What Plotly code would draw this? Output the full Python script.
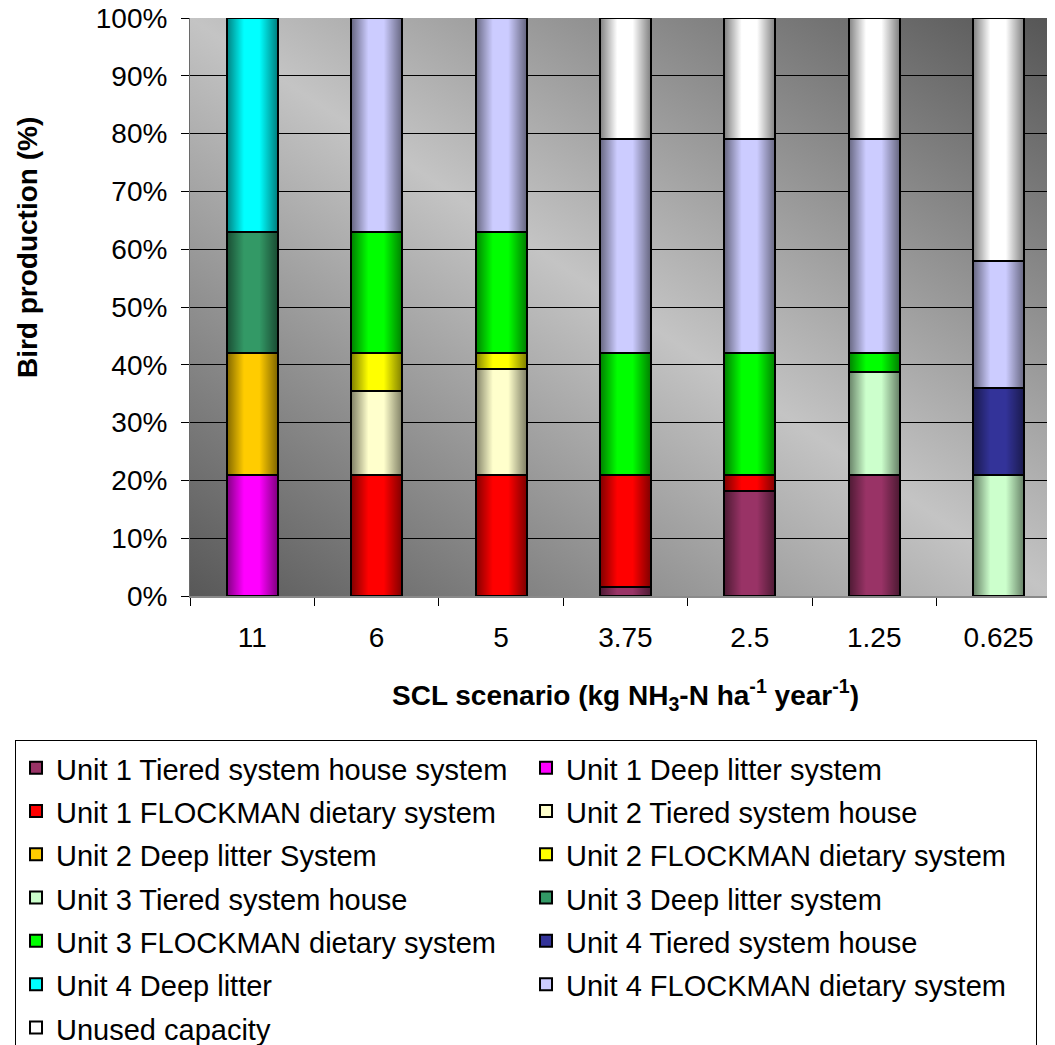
import base64
import plotly.graph_objects as go

categories = ["11", "6", "5", "3.75", "2.5", "1.25", "0.625"]

series_names = [
    "Unit 1 Tiered system house system",
    "Unit 1 Deep litter system",
    "Unit 1 FLOCKMAN dietary system",
    "Unit 2 Tiered system house",
    "Unit 2 Deep litter System",
    "Unit 2 FLOCKMAN dietary system",
    "Unit 3 Tiered system house",
    "Unit 3 Deep litter system",
    "Unit 3 FLOCKMAN dietary system",
    "Unit 4 Tiered system house",
    "Unit 4 Deep litter",
    "Unit 4 FLOCKMAN dietary system",
    "Unused capacity",
]

u1_tiered = [None, None, None, 1.5, 18.2, 21, None]
u1_deep = [21, None, None, None, None, None, None]
u1_flock = [None, 21, 21, 19.5, 2.8, None, None]
u2_tiered = [None, 14.5, 18.3, None, None, None, None]
u2_deep = [21, None, None, None, None, None, None]
u2_flock = [None, 6.5, 2.7, None, None, None, None]
u3_tiered = [None, None, None, None, None, 17.8, 21]
u3_deep = [21, None, None, None, None, None, None]
u3_flock = [None, 21, 21, 21, 21, 3.2, None]
u4_tiered = [None, None, None, None, None, None, 15]
u4_deep = [37, None, None, None, None, None, None]
u4_flock = [None, 37, 37, 37, 37, 37, 22]
unused = [None, None, None, 21, 21, 21, 42]

series_values = [u1_tiered, u1_deep, u1_flock, u2_tiered, u2_deep, u2_flock,
                 u3_tiered, u3_deep, u3_flock, u4_tiered, u4_deep, u4_flock, unused]

colors = ["#993366", "#FF00FF", "#FF0000", "#FFFFCC", "#FFCC00", "#FFFF00",
          "#CCFFCC", "#339966", "#00FF00", "#333399", "#00FFFF", "#CCCCFF", "#FFFFFF"]

FONT = "Arial, Liberation Sans, sans-serif"
BAR_W = 0.41

fig = go.Figure()
for name, vals, col in zip(series_names, series_values, colors):
    fig.add_trace(go.Bar(
        x=categories, y=vals, name="<span style='font-size:29px'>" + name + "</span>",
        marker=dict(color=col, line=dict(color="black", width=2)),
        width=BAR_W,
    ))


def svg_uri(svg):
    return "data:image/svg+xml;base64," + base64.b64encode(svg.encode()).decode()


bg_svg = ("<svg xmlns='http://www.w3.org/2000/svg' width='100' height='100' viewBox='0 0 100 100' "
          "preserveAspectRatio='none'><defs><linearGradient id='g' x1='0' y1='1' x2='1' y2='0'>"
          "<stop offset='0' stop-color='#585858'/><stop offset='0.5' stop-color='#c4c4c4'/>"
          "<stop offset='1' stop-color='#555555'/></linearGradient></defs>"
          "<rect width='100' height='100' fill='url(#g)'/></svg>")

shade_svg = ("<svg xmlns='http://www.w3.org/2000/svg' width='100' height='100' viewBox='0 0 100 100' "
             "preserveAspectRatio='none'><defs><linearGradient id='s' x1='0' y1='0' x2='1' y2='0'>"
             "<stop offset='0' stop-color='#000' stop-opacity='0.5'/>"
             "<stop offset='0.34' stop-color='#000' stop-opacity='0'/>"
             "<stop offset='0.64' stop-color='#000' stop-opacity='0'/>"
             "<stop offset='1' stop-color='#000' stop-opacity='0.5'/></linearGradient></defs>"
             "<rect width='100' height='100' fill='url(#s)'/></svg>")

images = [dict(source=svg_uri(bg_svg), xref="x domain", yref="y domain", x=0, y=1,
               sizex=1, sizey=1, xanchor="left", yanchor="top", sizing="stretch", layer="below")]
for i in range(len(categories)):
    images.append(dict(source=svg_uri(shade_svg), xref="x", yref="y", x=i - BAR_W / 2, y=100,
                       sizex=BAR_W, sizey=100, xanchor="left", yanchor="top",
                       sizing="stretch", layer="above"))

fig.update_layout(
    width=1055, height=1045,
    margin=dict(l=182, r=8, t=10, b=457, autoexpand=False),
    barmode="stack",
    paper_bgcolor="white",
    plot_bgcolor="rgba(0,0,0,0)",
    font=dict(family=FONT, size=28, color="black"),
    images=images,
    xaxis=dict(
        type="category", range=[-0.5, 6.453],
        tickson="boundaries", ticks="outside", ticklen=8, tickcolor="black",
        showline=True, linecolor="#8a8a8a", linewidth=2,
        showgrid=False, ticklabelstandoff=15, automargin=False,
        ticklabeloverflow="allow",
        tickfont=dict(size=28, family=FONT),
    ),
    yaxis=dict(
        range=[0, 100], dtick=10, ticksuffix="%",
        ticks="outside", ticklen=8, tickcolor="black",
        showline=True, linecolor="#6a6a6a", linewidth=1,
        showgrid=True, gridcolor="black", gridwidth=1,
        zeroline=False, ticklabelstandoff=8, automargin=False,
        ticklabeloverflow="allow",
        tickfont=dict(size=28, family=FONT),
    ),
    legend=dict(
        orientation="h", x=-0.2023, xanchor="left", y=-0.2491, yanchor="top",
        traceorder="normal", entrywidth=465, entrywidthmode="pixels",
        bgcolor="white", bordercolor="black", borderwidth=1,
        font=dict(size=31, family=FONT),
    ),
    showlegend=True,
    annotations=[
        dict(text="<b>Bird production (%)</b>", xref="paper", yref="paper",
             x=-0.1884, y=0.602, xanchor="center", yanchor="middle",
             textangle=-90, showarrow=False,
             font=dict(size=28, family=FONT)),
        dict(text="<b>SCL scenario (kg NH<sub>3</sub>-N ha<sup>-1</sup> year<sup>-1</sup>)</b>",
             xref="paper", yref="paper", x=0.503, y=-0.171,
             xanchor="center", yanchor="middle", showarrow=False,
             font=dict(size=28, family=FONT)),
    ],
)

fig.write_html("out.html")
